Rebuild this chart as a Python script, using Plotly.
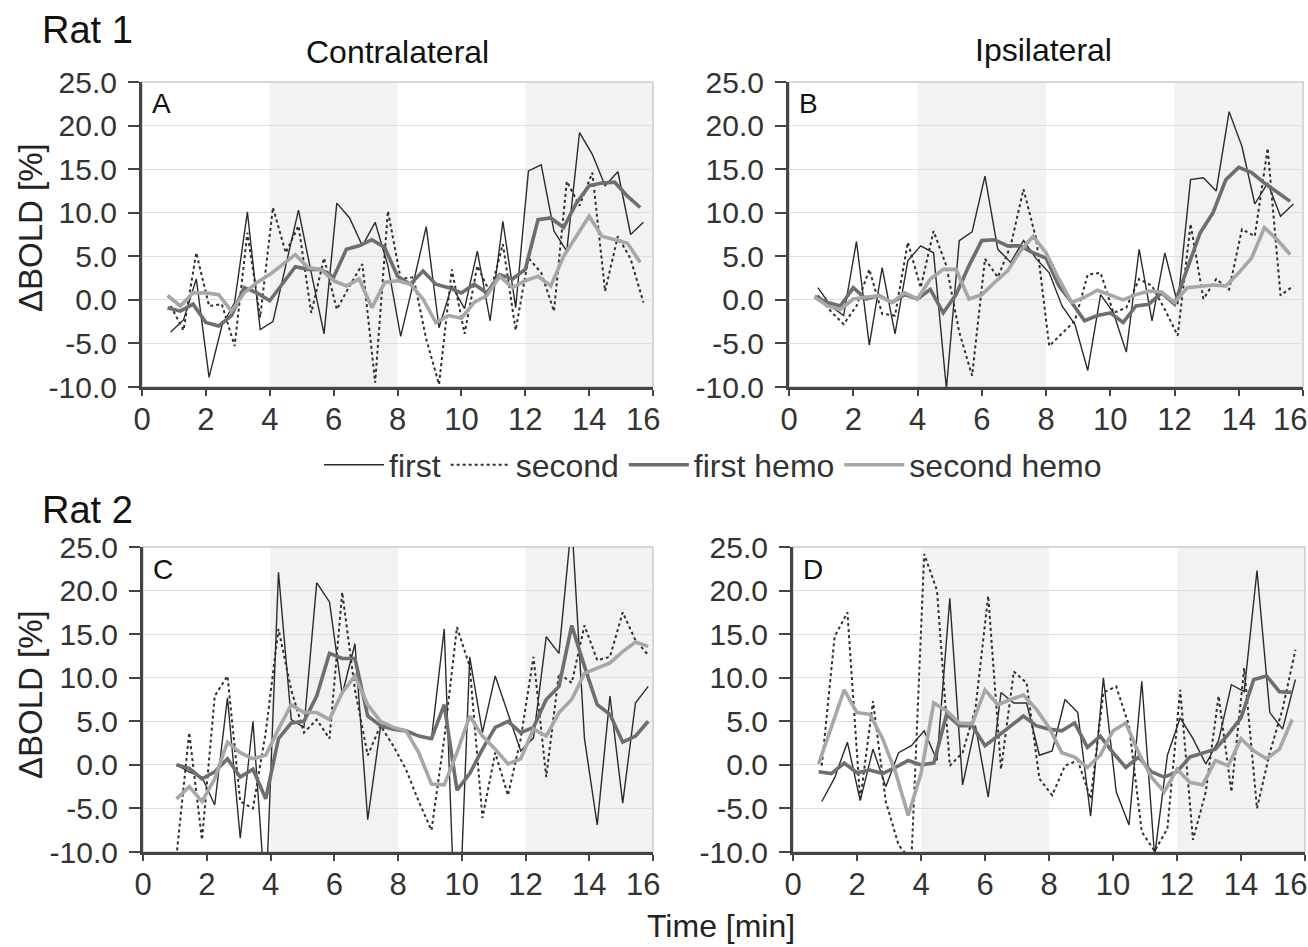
import plotly.graph_objects as go

W, H = 1308, 947

# ---------------- data ----------------
time_raw = [0.9, 1.3, 1.7, 2.1, 2.5, 2.9, 3.3, 3.7, 4.1, 4.5, 4.9, 5.3, 5.7, 6.1, 6.5, 6.9, 7.3, 7.7, 8.1,
            8.5, 8.9, 9.3, 9.7, 10.1, 10.5, 10.9, 11.3, 11.7, 12.1, 12.5, 12.9, 13.3, 13.7, 14.1, 14.5, 14.9, 15.3, 15.7]
time_hemo = [0.8, 1.2, 1.6, 2.0, 2.4, 2.8, 3.2, 3.6, 4.0, 4.4, 4.8, 5.2, 5.6, 6.0, 6.4, 6.8, 7.2, 7.6, 8.0,
             8.4, 8.8, 9.2, 9.6, 10.0, 10.4, 10.8, 11.2, 11.6, 12.0, 12.4, 12.8, 13.2, 13.6, 14.0, 14.4, 14.8, 15.2, 15.6]
time_c = [1.05, 1.45, 1.85, 2.25, 2.65, 3.05, 3.45, 3.85, 4.25, 4.65, 5.05, 5.45, 5.85, 6.25, 6.65, 7.05, 7.45, 7.85, 8.25,
          8.65, 9.05, 9.45, 9.85, 10.25, 10.65, 11.05, 11.45, 11.85, 12.25, 12.65, 13.05, 13.45, 13.85, 14.25, 14.65, 15.05, 15.45, 15.85]

# Panel A (Rat 1, contralateral)
a_first = [-3.7, -2.3, 2.4, -8.9, -3.0, -0.3, 10.1, -3.4, -2.5, 3.9, 10.3, 3.1, -3.9, 11.1, 9.4, 6.2, 8.9, 3.9, -4.2,
           2.0, 8.4, -3.2, 1.6, -1.0, 5.6, -2.4, 9.0, -0.9, 14.8, 15.5, 7.9, 5.6, 19.2, 16.7, 13.1, 14.7, 7.5, 8.9]
a_second = [-0.7, -3.5, 5.4, -0.7, -0.5, -5.3, 7.7, -2.0, 10.6, 5.4, 8.5, -1.5, 4.8, -1.1, 1.6, 4.1, -9.5, 10.2, 2.4,
            2.6, -4.5, -9.7, 3.5, -3.9, 3.9, 0.8, 6.4, -3.5, 4.8, 3.1, -1.3, 13.6, 10.8, 14.6, 1.0, 7.3, 4.7, -0.3]
a_first_hemo = [-0.9, -1.3, -0.5, -2.6, -3.0, -1.8, 1.4, 0.8, -0.1, 1.8, 3.8, 3.5, 3.5, 2.6, 5.8, 6.2, 6.9, 6.0, 2.7,
                1.8, 3.3, 1.8, 1.4, 0.8, 1.8, 0.8, 2.9, 2.4, 3.5, 9.2, 9.4, 8.3, 11.1, 13.1, 13.4, 13.5, 11.9, 10.6]
a_second_hemo = [0.5, -0.7, 0.8, 0.8, 0.6, -1.3, 0.8, 2.0, 2.9, 4.1, 5.2, 3.7, 3.5, 2.2, 1.6, 2.4, -0.9, 2.0, 2.2,
                 1.8, 0.1, -2.6, -1.8, -2.1, -0.3, 0.5, 2.7, 1.4, 2.2, 2.7, 1.6, 5.0, 7.3, 9.6, 7.3, 6.9, 6.5, 4.3]

# Panel B (Rat 1, ipsilateral)
b_first = [1.4, -0.7, -1.8, 6.7, -5.2, 3.7, -3.9, 4.5, 6.2, 5.4, -10.2, 6.8, 7.8, 14.2, 5.8, 4.3, 6.8, 4.7, 3.1,
           -0.7, -2.8, -8.1, 0.6, -1.5, -6.0, 5.8, -2.4, 5.4, -0.5, 13.8, 14.0, 12.5, 21.6, 17.6, 11.0, 13.4, 9.6, 11.0]
b_second = [0.5, -1.3, -2.8, -0.7, 3.5, -1.6, -1.8, 6.6, 1.4, 7.9, 3.9, -3.7, -8.7, 4.7, 2.6, 6.2, 12.7, 6.9, -5.3,
            -3.9, -2.4, 2.9, 3.1, -1.5, -0.9, 2.4, 1.6, -1.1, -4.1, 8.7, 0.1, 2.4, 1.2, 8.1, 7.3, 17.4, 0.5, 1.6]
b_first_hemo = [0.4, -0.3, -0.7, 1.4, 0.1, 0.5, -0.3, 0.6, 0.1, 1.2, -1.5, 0.6, 3.9, 6.8, 6.9, 6.2, 6.2, 5.4, 4.8,
                1.6, -0.3, -2.4, -1.8, -1.5, -2.6, -0.7, -0.5, 0.8, -0.5, 3.5, 7.7, 10.0, 13.8, 15.2, 14.6, 13.4, 12.3, 11.3]
b_second_hemo = [0.3, -0.7, -1.1, 0.1, 0.3, 0.5, -0.3, 0.8, 0.1, 2.4, 3.5, 3.5, 0.1, 0.6, 2.0, 3.3, 5.6, 7.3, 5.4,
                 2.4, -0.3, 0.3, 1.1, 0.6, 0.0, 0.6, 1.0, 0.9, -0.3, 1.4, 1.6, 1.7, 1.6, 3.1, 4.8, 8.3, 6.9, 5.2]

# Panel C (Rat 2, contralateral)
c_first = [0.0, -0.8, -1.4, -4.6, 7.7, -8.4, 5.0, -16.0, 22.1, 5.2, 4.3, 20.9, 18.7, 8.1, 13.9, -6.3, 4.3, 4.1, 3.9,
           3.3, 3.0, 15.6, -25.0, 12.4, 3.7, 10.2, 5.9, 1.6, 3.1, 14.7, 12.8, 28.0, 3.0, -6.9, 7.9, -4.4, 7.1, 9.0]
c_second = [-10.5, 3.7, -8.6, 7.9, 10.2, -4.2, -5.0, 3.7, 15.6, 8.6, 3.7, 5.2, 3.0, 19.8, 8.6, 1.1, 4.5, 2.2, -0.5,
            -4.2, -7.5, 3.0, 15.8, 11.3, -6.1, 1.4, -3.5, 3.0, 12.4, -1.4, 10.5, 9.4, 16.0, 12.0, 12.4, 17.5, 14.3, 12.6]
c_first_hemo = [0.0, -0.4, -1.6, -0.8, 0.7, -1.4, -0.5, -3.9, 3.0, 4.8, 5.0, 7.9, 12.8, 12.2, 12.2, 5.6, 4.5, 4.1, 3.9,
                3.3, 3.0, 6.9, -2.9, -1.0, 1.8, 4.3, 5.0, 3.7, 4.3, 7.5, 9.0, 16.0, 11.3, 6.9, 5.8, 2.6, 3.3, 5.0]
c_second_hemo = [-3.9, -2.5, -4.2, -1.6, 2.6, 1.4, 0.7, 1.1, 4.1, 6.9, 6.0, 6.0, 5.2, 8.3, 10.2, 6.9, 5.0, 4.3, 3.9,
                 1.4, -2.2, -2.3, 1.4, 5.6, 3.3, 1.8, 0.1, 0.7, 4.1, 3.3, 6.0, 7.5, 10.5, 11.1, 11.7, 13.0, 14.1, 13.6]

# Panel D (Rat 2, ipsilateral)
d_first = [-4.2, -1.5, 2.6, -4.1, 1.8, -2.5, 1.4, 2.2, 3.9, 0.5, 19.1, -2.3, 4.5, -3.7, 8.3, 7.1, 7.1, 1.1, 1.6,
           7.5, 6.0, -5.9, 10.0, -3.1, -6.9, 9.6, -10.5, 1.1, 5.4, 3.0, 0.1, 2.8, 9.2, 8.4, 22.3, 6.0, 4.1, 9.8]
d_second = [-0.1, 14.7, 17.5, -4.1, 7.3, -4.2, -9.2, -11.0, 24.2, 20.0, -0.1, 1.4, 6.4, 19.4, -0.5, 10.7, 9.4, -1.6, -3.5,
            -0.1, 0.5, -3.9, 8.3, 9.0, 4.5, -7.7, -9.9, -7.3, 8.6, -8.6, -3.1, 7.9, -3.1, 11.1, -5.0, 1.4, 6.4, 13.2]
d_first_hemo = [-0.8, -1.0, 0.2, -0.9, -0.6, -1.0, -0.3, 0.5, 0.0, 0.2, 5.8, 4.5, 4.5, 2.2, 3.3, 4.5, 5.6, 4.5, 4.1,
                3.9, 4.8, 2.0, 3.3, 1.4, -0.3, 0.9, -0.8, -1.4, -0.8, 0.9, 1.4, 1.8, 3.5, 5.4, 9.8, 10.2, 8.4, 8.3]
d_second_hemo = [0.1, 4.5, 8.6, 6.0, 5.8, 3.0, -0.8, -5.8, -1.0, 7.1, 6.2, 4.8, 4.7, 8.6, 6.9, 7.5, 8.0, 6.4, 4.3,
                 1.4, 0.9, -0.3, 1.1, 3.9, 4.8, 1.4, -1.4, -3.1, -0.5, -2.0, -2.3, 0.5, -0.1, 3.0, 1.6, 0.7, 1.8, 5.2]

series_names = ["first", "second", "first hemo", "second hemo"]
stim_blocks = [(4, 8), (12, 16)]
y_ticks = [-10, -5, 0, 5, 10, 15, 20, 25]
x_ticks = [0, 2, 4, 6, 8, 10, 12, 14, 16]

# ---------------- styling ----------------
FONT = "Liberation Sans, Arial, Helvetica, sans-serif"
styles = {
    "first": dict(color="#2b2b2b", width=1.4, dash="solid"),
    "second": dict(color="#2f2f2f", width=2.0, dash="dot"),
    "first hemo": dict(color="#6e6e6e", width=3.6, dash="solid"),
    "second hemo": dict(color="#a7a7a7", width=3.6, dash="solid"),
}

panels = [
    dict(letter="A", t_raw=time_raw, t_hemo=time_hemo,
         data=[a_first, a_second, a_first_hemo, a_second_hemo], px=(142, 653), py=(82, 387)),
    dict(letter="B", t_raw=time_raw, t_hemo=time_hemo,
         data=[b_first, b_second, b_first_hemo, b_second_hemo], px=(789, 1303), py=(82, 387)),
    dict(letter="C", t_raw=time_c, t_hemo=time_c,
         data=[c_first, c_second, c_first_hemo, c_second_hemo], px=(143, 653), py=(547, 852)),
    dict(letter="D", t_raw=time_raw, t_hemo=time_hemo,
         data=[d_first, d_second, d_first_hemo, d_second_hemo], px=(793, 1305), py=(547, 852)),
]

fig = go.Figure()
layout = dict(
    width=W, height=H, margin=dict(l=0, r=0, t=0, b=0, autoexpand=False),
    paper_bgcolor="white", plot_bgcolor="white",
    font=dict(family=FONT, color="#222222"),
    showlegend=True,
    legend=dict(orientation="h", x=713 / W, xanchor="center", y=1 - 465 / H, yanchor="middle",
                font=dict(size=32, family=FONT, color="#333333"), itemwidth=60,
                bgcolor="rgba(0,0,0,0)", tracegroupgap=0),
)
shapes = []
annotations = []

TICK_FONT_X = dict(size=31, family=FONT, color="#333333")

for i, p in enumerate(panels):
    k = "" if i == 0 else str(i + 1)
    xa, ya = "x" + k, "y" + k
    for j, name in enumerate(series_names):
        t = p["t_raw"] if j < 2 else p["t_hemo"]
        st = styles[name]
        fig.add_trace(go.Scatter(
            x=t, y=p["data"][j], mode="lines", name=name, legendgroup=name,
            showlegend=(i == 0),
            line=dict(color=st["color"], width=st["width"], dash=st["dash"]),
            xaxis=xa, yaxis=ya, hoverinfo="skip"))
    # the last x label ("16") is placed like the original, pulled inside the panel edge
    xt_text = [str(v) for v in x_ticks[:-1]] + [""]
    layout["xaxis" + k] = dict(
        domain=[p["px"][0] / W, p["px"][1] / W], anchor=ya, range=[0, 16],
        tickmode="array", tickvals=x_ticks, ticktext=xt_text,
        showline=True, linecolor="#444444", linewidth=3,
        ticks="outside", ticklen=6, tickwidth=2, tickcolor="#444444",
        showgrid=False, zeroline=False, ticklabelstandoff=-3, automargin=False,
        ticklabeloverflow="allow",
        tickfont=TICK_FONT_X, fixedrange=True)
    layout["yaxis" + k] = dict(
        domain=[1 - p["py"][1] / H, 1 - p["py"][0] / H], anchor=xa, range=[-10, 25],
        tickmode="array", tickvals=y_ticks, ticktext=["%.1f" % v for v in y_ticks],
        showline=True, linecolor="#444444", linewidth=3,
        ticks="outside", ticklen=11, tickwidth=2, tickcolor="#444444",
        showgrid=True, gridcolor="#dedede", gridwidth=1, zeroline=False, ticklabelstandoff=5,
        automargin=False, ticklabeloverflow="allow",
        tickfont=dict(size=30, family=FONT, color="#333333"), fixedrange=True)
    last_x = p["px"][1] - 10 if p["px"][1] < 1000 else W - 18
    annotations.append(dict(text=str(x_ticks[-1]), xref="paper", yref="paper",
                            x=last_x / W, y=1 - (p["py"][1] + 32) / H,
                            xanchor="center", yanchor="middle", showarrow=False,
                            font=TICK_FONT_X))
    for (s0, s1) in stim_blocks:
        shapes.append(dict(type="rect", xref=xa, yref=ya + " domain", x0=s0, x1=s1, y0=0, y1=1,
                           fillcolor="#f2f2f2", line=dict(width=0), layer="below"))
    shapes.append(dict(type="rect", xref=xa + " domain", yref=ya + " domain", x0=0, x1=1, y0=0, y1=1,
                       fillcolor="rgba(0,0,0,0)", line=dict(color="#cccccc", width=1.5), layer="below"))
    # panel letter
    lx = p["px"][0] + 8
    ly = p["py"][0] + 22
    annotations.append(dict(text=p["letter"], xref="paper", yref="paper", x=lx / W, y=1 - ly / H,
                            xanchor="left", yanchor="middle", showarrow=False,
                            font=dict(size=28, family=FONT, color="#111111")))

# titles and axis labels
def ann(text, x, y, size, xanchor="center", angle=0, color="#111111"):
    annotations.append(dict(text=text, xref="paper", yref="paper", x=x / W, y=1 - y / H,
                            xanchor=xanchor, yanchor="middle", showarrow=False, textangle=angle,
                            font=dict(size=size, family=FONT, color=color)))

ann("Rat 1", 40, 30, 38, xanchor="left")
ann("Rat 2", 40, 510, 38, xanchor="left")
ann("Contralateral", 397, 52, 32)
ann("Ipsilateral", 1043, 50, 32)
ann("ΔBOLD [%]", 30, 228, 33, angle=-90, color="#222222")
ann("ΔBOLD [%]", 30, 695, 33, angle=-90, color="#222222")
ann("Time [min]", 721, 926, 32, color="#222222")

layout["shapes"] = shapes
layout["annotations"] = annotations
fig.update_layout(**layout)
fig.write_html("out.html", config={"displayModeBar": False},
               post_script="document.body.style.margin='0px';document.body.style.overflow='hidden';")
